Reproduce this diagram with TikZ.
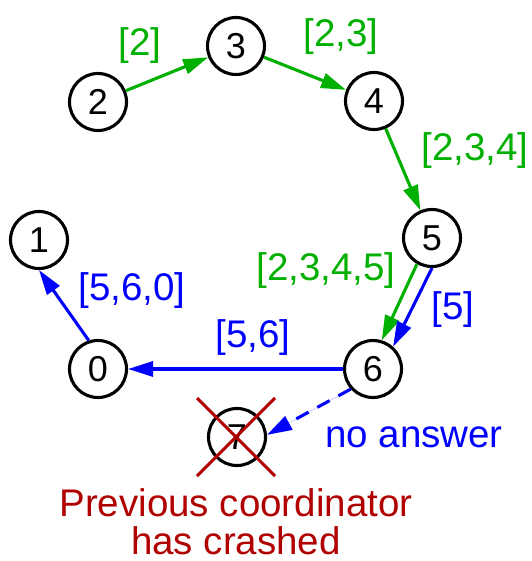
\documentclass[tikz,border=0pt]{standalone}
\usepackage{fontspec}
\setmainfont{Liberation Sans}
\usetikzlibrary{arrows.meta}
\definecolor{grn}{RGB}{0,176,0}
\definecolor{blu}{RGB}{0,0,255}
\definecolor{dred}{RGB}{176,0,0}
\tikzset{
  proc/.style={circle, draw=black, line width=3.1pt, minimum size=57pt, inner sep=0pt, font=\fontsize{36}{40}\selectfont},
  lbl/.style={font=\fontsize{38.5}{44}\selectfont, inner sep=0pt},
  arr/.style={line width=3.1pt, -{Triangle[length=25pt,width=15pt]}},
  garr/.style={arr, draw=grn, fill=grn},
  barr/.style={arr, draw=blu, fill=blu},
}
\begin{document}
\begin{tikzpicture}[x=1pt, y=-1pt]
\useasboundingbox (0,0) rectangle (531,561);
\node[proc] (n2) at (98,102) {2};
\node[proc] (n3) at (236,46) {3};
\node[proc] (n4) at (374,101) {4};
\node[proc] (n5) at (432,238) {5};
\node[proc] (n6) at (373,369) {6};
\node[proc] (n0) at (98,369) {0};
\node[proc] (n1) at (39,240) {1};
\node[proc] (n7) at (237,437) {7};

\draw[garr] (n2) -- (n3);
\draw[garr] (n3) -- (n4);
\draw[garr] (n4) -- (n5);
\draw[garr] (n5.240) -- (n6.73);
\draw[barr] (n5.270) -- (n6.48);
\draw[barr] (n6) -- (n0);
\draw[barr] (n0.108) -- (n1.270);
\draw[barr, dash pattern=on 14pt off 10pt] (n6.222) -- (n7.4);

\coordinate (xa) at (197,398);
\coordinate (xb) at (275,476);
\coordinate (xc) at (275,398);
\coordinate (xd) at (197,476);
\draw[dred, line width=3.1pt] (xa) -- (xb);
\draw[dred, line width=3.1pt] (xc) -- (xd);

\node[lbl, text=grn] (l2) at (140,46) {[2]};
\node[lbl, text=grn] (l23) at (341,37) {[2,3]};
\node[lbl, text=grn] (l234) at (475,151) {[2,3,4]};
\node[lbl, text=grn] (l2345) at (326,271) {[2,3,4,5]};
\node[lbl, text=blu] (l5) at (453,310) {[5]};
\node[lbl, text=blu] (l56) at (253,338) {[5,6]};
\node[lbl, text=blu] (l560) at (132,291) {[5,6,0]};
\node[lbl, text=blu, anchor=base] (lna) at (414,447) {no answer};
\node[lbl, text=dred, anchor=base] (lcr1) at (236,516) {Previous coordinator};
\node[lbl, text=dred, anchor=base] (lcr2) at (236,554) {has crashed};
\end{tikzpicture}
\end{document}
